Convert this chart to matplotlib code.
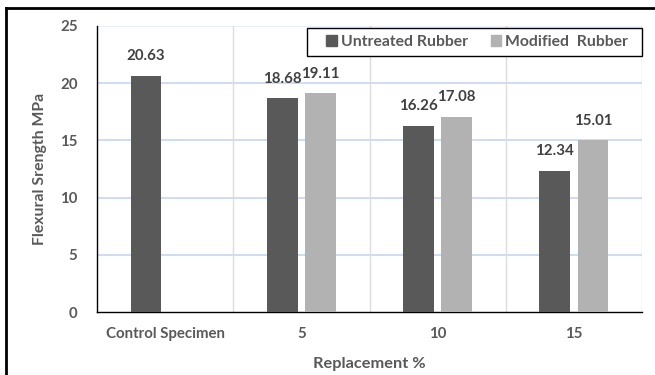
import matplotlib
matplotlib.use("Agg")
import matplotlib.pyplot as plt
import numpy as np
from matplotlib.lines import Line2D
from matplotlib.patches import Patch, Rectangle

categories = ["Control Specimen", "5", "10", "15"]
untreated = [20.63, 18.68, 16.26, 12.34]
modified = [np.nan, 19.11, 17.08, 15.01]
series_names = ["Untreated Rubber", "Modified  Rubber"]
yticks = [0, 5, 10, 15, 20, 25]

plt.rcParams['font.family'] = ['Lato', 'DejaVu Sans']
plt.rcParams['font.weight'] = 'bold'

fig = plt.figure(figsize=(6.55, 3.75), dpi=100)
ax = fig.add_axes([97/655, 1-312/375, 545/655, 286/375])

dark = "#595959"
light = "#b2b2b2"
txt = "#595959"
lbl = "#404040"

x = np.arange(len(categories))
off = 0.14
w = 0.225
ax.bar(x - off, untreated, w, color=dark, zorder=3)
ax.bar(x + off, modified, w, color=light, zorder=3)

for xi, v in zip(x - off, untreated):
    ax.annotate(f"{v:.2f}", (xi, v), xytext=(0, 9), textcoords="offset points",
                ha="center", va="bottom", fontsize=10.8, fontweight="bold", color=lbl)
for xi, v in zip(x + off, modified):
    if not np.isnan(v):
        ax.annotate(f"{v:.2f}", (xi, v), xytext=(0, 9), textcoords="offset points",
                    ha="center", va="bottom", fontsize=10.8, fontweight="bold", color=lbl)

ax.set_xlim(-0.5, len(categories) - 0.5)
ax.set_ylim(0, 25)
ax.set_yticks(yticks)
ax.set_xticks(x)
ax.set_xticklabels(categories)
ax.tick_params(axis='both', length=0, labelsize=10.8, colors=txt)
ax.tick_params(axis='y', pad=14)
ax.tick_params(axis='x', pad=11)
for t in ax.get_xticklabels() + ax.get_yticklabels():
    t.set_fontweight('bold')

for yv in yticks[1:]:
    ax.axhline(yv, color="#c6d5f0" if yv < 25 else "#e6ecf7", lw=1.2, zorder=1)
for xv in np.arange(0.5, len(categories), 1.0):
    ax.axvline(xv, color="#dcdcdc", lw=1, zorder=1)

for s in ['top', 'right']:
    ax.spines[s].set_visible(False)
ax.spines['left'].set_color('black')
ax.spines['bottom'].set_color('black')
ax.spines['left'].set_linewidth(1)
ax.spines['bottom'].set_linewidth(1)

ax.set_ylabel("Flexural Srength MPa", fontsize=11.3, fontweight="bold", color=txt, labelpad=9)
ax.set_xlabel("Replacement %", fontsize=11.8, fontweight="bold", color=txt, labelpad=11)

# legend box
ax.add_patch(Rectangle((0.385, 0.895), 0.615, 0.098, transform=ax.transAxes,
                       facecolor="white", edgecolor="black", lw=1, clip_on=False, zorder=5))
handles = [Patch(color=dark), Patch(color=light)]
leg = ax.legend(handles, series_names, ncol=2, loc="center",
                bbox_to_anchor=(0.698, 0.944), frameon=False,
                handlelength=0.65, handleheight=0.65,
                handletextpad=0.25, columnspacing=1.5, borderpad=0,
                fontsize=11.3, borderaxespad=0)
leg.set_zorder(6)
for t in leg.get_texts():
    t.set_color(txt)
    t.set_fontweight('bold')

# outer frame lines (top and left)
fig.add_artist(Line2D([6/655, 6/655], [0, 1-8/375], color="black", lw=2, transform=fig.transFigure))
fig.add_artist(Line2D([6/655, 1.0], [1-8/375, 1-8/375], color="black", lw=2, transform=fig.transFigure))

fig.savefig("out.png", dpi=100)
